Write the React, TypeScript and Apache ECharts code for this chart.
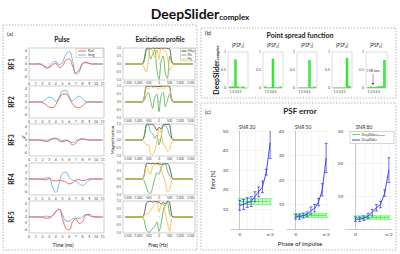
import React, { useEffect, useRef } from "react";
import * as echarts from "echarts";

// ---------- DATA ----------
const TIME = [0, 0.5, 1, 1.5, 2, 2.5, 3, 3.5, 4, 4.5, 5, 5.5, 6, 6.5, 7, 7.5, 8, 8.5, 9, 9.5, 10, 10.5, 11];
const TIME_TICKS = [0, 1, 2, 3, 4, 5, 6, 7, 8, 9, 10, 11];
const PULSE_TICKS = [-4, -2, 0, 2, 4];

const RF1_REAL = [0, 0, 0, 0, -0.3, -0.9, -1.1, -0.3, 0.2, -1.1, -0.6, 1.2, 1.6, -0.6, -2.7, -1.8, 0.1, 0.4, 0.1, 0, 0, 0, 0];
const RF1_IMAG = [0, 0, 0, 0.1, -0.4, -1.3, -1.0, 0.4, 0.8, -0.2, 0.6, 3.0, 4.0, 1.2, -3.2, -2.5, 0.2, 0.6, 0.2, 0, 0, 0, 0];
const RF2_REAL = [0, 0, 0, 0, -0.2, -0.8, -1.6, -1.8, -0.8, 1.0, 2.4, 2.5, 1.2, -0.6, -1.6, -1.8, -1.1, -0.3, 0, 0, 0, 0, 0];
const RF2_IMAG = [0, 0, 0, 0, 0.2, 0.9, 1.5, 1.2, 0.2, 1.5, 3.5, 3.6, 1.8, 0.3, 1.2, 1.8, 1.0, 0.2, 0, 0, 0, 0, 0];
const RF3_REAL = [0, 0, 0, 0, -0.2, -0.5, -0.3, 0.3, 0.4, -0.3, -0.6, -0.2, -0.5, -1.5, -1.0, 0, 0.3, 0.1, 0, 0, 0, 0, 0];
const RF3_IMAG = [0, 0, 0, 0, 0, -0.1, 0.1, 0.5, 0.6, 0.2, -0.2, 0, -0.4, -0.8, -0.3, 0.2, 0.4, 0.2, 0, 0, 0, 0, 0];
const RF4_REAL = [0, 0, 0, 0, -0.1, -0.3, 0.1, -0.4, -0.6, -0.4, -0.6, -1.0, -1.5, -1.2, -0.4, -0.2, -0.5, -0.3, 0, 0, 0, 0, 0];
const RF4_IMAG = [0, 0, 0, 0, 0, 0.3, 0.4, -2.5, -4.2, -1.5, 1.8, 2.1, 0.5, -0.3, -0.6, -1.5, -2.0, -1.3, -0.3, 0, 0, 0, 0];
const RF5_REAL = [0, 0, 0, 0, -0.1, -0.4, -0.3, 0.3, 1.6, 2.4, -0.5, -3.5, -4.0, -1.5, -0.6, -2.0, -1.4, 0.6, 0.8, 0.2, 0, 0, 0];
const RF5_IMAG = [0, 0, 0, 0, 0, 0.3, 0.1, 0.5, 1.8, 2.5, 0.8, -1.2, -1.3, -0.6, -0.3, -0.5, 0.2, 0.7, 0.4, 0.1, 0, 0, 0];

const FREQ = [-1600, -800, -700, -600, -500, -400, -300, -200, -100, 0, 100, 200, 300, 400, 500, 600, 700, 1600];
const FREQ_TICKS = [-1500, -1000, -500, 0, 500, 1000, 1500];
const MAG_TICKS = [-1, -0.5, 0, 0.5, 1];

const MXY1 = [0, 0, 0.3, 0.95, 1, 0.95, 1, 0.98, 1, 0.97, 1, 0.98, 1, 0.97, 0.95, 0.2, 0, 0];
const MX1 = [0, 0, 0.15, 0.85, 0.95, 0.3, 0.6, 0.9, -0.4, -0.95, 0.2, 0.5, -0.6, -0.9, 0.5, 0.1, 0, 0];
const MY1 = [0, 0, -0.25, -0.5, 0.3, 0.95, 0.8, 0.4, 0.9, 0.3, 0.98, 0.85, 0.8, 0.4, -0.4, -0.15, 0, 0];
const MXY2 = [0, 0, 0.3, 0.97, 0.98, 1, 0.97, 0.99, 0.98, 0.96, 0.98, 1, 0.99, 1, 0.97, 0.2, 0, 0];
const MX2 = [0, 0, 0.1, 0.4, 0.6, 0.1, -0.4, 0.3, 0.5, -0.6, 0.4, 0.6, -0.3, 0.1, 0.5, 0.1, 0, 0];
const MY2 = [0, 0, 0.3, 0.9, 0.8, 1, 0.9, 0.95, 0.85, 0.8, 0.9, 0.8, 0.95, 1, 0.85, 0.2, 0, 0];
const MXY3 = [0, 0, 0.25, 0.95, 1, 0.98, 0.97, 0.85, 0.6, 0.8, 0.7, 0.95, 0.98, 0.98, 0.95, 0.15, 0, 0];
const MX3 = [0, 0, 0.2, 0.9, 0.95, 0.5, 0.4, 0.1, 0.3, -0.3, 0.2, 0.9, 0.9, 0.7, 0.3, 0.1, 0, 0];
const MY3 = [0, 0, -0.1, -0.3, -0.3, -0.85, -0.9, -0.7, -0.1, 0.7, 0.5, -0.3, -0.4, -0.7, -0.6, -0.1, 0, 0];
const MXY4 = [0, 0, 0.25, 0.95, 0.98, 0.95, 0.97, 0.95, 0.98, 0.95, 0.92, 0.93, 0.96, 0.95, 0.75, 0.15, 0, 0];
const MX4 = [0, 0, -0.1, -0.5, -0.85, -0.9, -0.5, 0, 0.4, 0.3, 0.7, 0.9, 0.95, 0.5, 0.2, 0.1, 0, 0];
const MY4 = [0, 0, 0.2, 0.8, 0.5, 0.3, 0.8, 0.95, 0.9, 0.9, 0.6, 0.2, -0.2, -0.8, -0.7, -0.1, 0, 0];
const MXY5 = [0, 0, 0.2, 0.85, 0.97, 0.98, 0.92, 0.98, 0.95, 0.93, 0.8, 0.9, 0.82, 0.98, 0.92, 0.1, 0, 0];
const MX5 = [0, 0, -0.2, -0.8, -0.95, -0.9, -0.7, -0.6, -0.3, -0.9, -0.4, 0.4, 0.8, 0.9, 0.2, 0.05, 0, 0];
const MY5 = [0, 0, 0.05, 0.2, 0.2, 0.4, 0.6, 0.8, 0.9, 0.3, 0.7, 0.8, 0.2, -0.4, -0.9, -0.1, 0, 0];

const PSF_POS = [1, 2, 3, 4, 5, 6, 7];
const PSF_TICKS = [1, 2, 3, 4, 5];
const PSF1 = [0.04, 0.04, 0.79, 0.04, 0.01, 0.04, 0];
const PSF2 = [0.04, 0.01, 0.02, 0.81, 0.02, 0.01, 0.04];
const PSF3 = [0.01, 0.01, 0.01, 0.01, 0.77, 0.01, 0.04];
const PSF4 = [0.01, 0.01, 0.01, 0.01, 0.01, 0.83, 0.06];
const PSF5 = [0.02, 0.035, 0.02, 0.035, 0.05, 0.05, 0.78];

const PHASE = [0, 0.19635, 0.3927, 0.58905, 0.7854, 0.98175, 1.1781, 1.37445, 1.5708];
const PHASE_TICKS = [0, 0.3927, 0.7854, 1.1781, 1.5708];
const BLUE20 = [12, 12.5, 13.5, 14, 16.5, 19, 21.5, 29, 44, 70];
const BLUE20_ERR = [2.5, 2.5, 2.5, 2.5, 2.5, 2.5, 3, 1.5, 8, 10];
const GREEN20 = [14, 14, 14, 14, 14, 14, 14, 14, 14];
const GREEN20_ERR = [1.4, 1.4, 1.4, 1.4, 1.4, 1.4, 1.4, 1.4, 1.4];
const BLUE50 = [5, 5, 5.5, 6, 7.5, 8.5, 11, 16, 29];
const BLUE50_ERR = [1, 1, 1, 1, 1.5, 1.5, 1.5, 2.5, 6];
const GREEN50 = [5.5, 5.5, 5.5, 5.5, 5.5, 5.5, 5.5, 5.5, 5.5];
const GREEN50_ERR = [0.7, 0.7, 0.7, 0.7, 0.7, 0.7, 0.7, 0.7, 0.7];
const BLUE80 = [3, 3, 3.3, 4, 5, 6.5, 7.5, 11, 18];
const BLUE80_ERR = [0.7, 0.7, 0.7, 0.8, 1, 1, 1, 1, 3.8];
const GREEN80 = [3.5, 3.5, 3.5, 3.5, 3.5, 3.5, 3.5, 3.5, 3.5];
const GREEN80_ERR = [0.5, 0.5, 0.5, 0.5, 0.5, 0.5, 0.5, 0.5, 0.5];
const ERR_MAX = [50, 40, 30];

const RED = "#f0565a";
const LBLUE = "#6aaee0";
const DARK = "#3c3c3c";
const MGREEN = "#4caf50";
const ORANGE = "#f7b733";
const BGREEN = "#3cf03c";
const BBLUE = "#3434f0";
const FONT = "Lato";

function buildOption() {
  const grid: any[] = [];
  const xAxis: any[] = [];
  const yAxis: any[] = [];
  const series: any[] = [];
  const graphic: any[] = [];
  const lbl = { fontSize: 3.5, color: "#444", fontFamily: FONT };

  const add = (g: any, x: any, y: any) => {
    const i = grid.length;
    grid.push({ show: true, borderColor: "#b0b0b0", borderWidth: 0.6, backgroundColor: "#fff", ...g });
    xAxis.push({ gridIndex: i, ...x });
    yAxis.push({ gridIndex: i, ...y });
    return i;
  };

  const rowTops = [48, 86, 124, 163, 201];
  const pulses = [
    [RF1_REAL, RF1_IMAG], [RF2_REAL, RF2_IMAG], [RF3_REAL, RF3_IMAG], [RF4_REAL, RF4_IMAG], [RF5_REAL, RF5_IMAG],
  ];
  const excs = [[MXY1, MX1, MY1], [MXY2, MX2, MY2], [MXY3, MX3, MY3], [MXY4, MX4, MY4], [MXY5, MX5, MY5]];

  rowTops.forEach((top, r) => {
    const gi = add(
      { left: 29, top, width: 75, height: 32 },
      {
        type: "value", min: 0, max: 11.2,
        axisLine: { show: false },
        axisTick: { show: true, inside: true, length: 1, customValues: TIME_TICKS, lineStyle: { color: "#999", width: 0.4 } },
        axisLabel: { ...lbl, margin: 1.5, customValues: TIME_TICKS },
        splitLine: { show: false },
      },
      {
        type: "value", min: -5, max: 5,
        axisLine: { show: false },
        axisTick: { show: true, inside: true, length: 1, customValues: PULSE_TICKS, lineStyle: { color: "#999", width: 0.4 } },
        axisLabel: { ...lbl, margin: 2, customValues: PULSE_TICKS },
        splitLine: { show: false },
      }
    );
    const [re, im] = pulses[r];
    series.push({
      type: "line", xAxisIndex: gi, yAxisIndex: gi, data: TIME.map((t, i) => [t, re[i]]),
      smooth: 0.45, showSymbol: false, lineStyle: { color: RED, width: 0.9 }, z: 3,
    });
    series.push({
      type: "line", xAxisIndex: gi, yAxisIndex: gi, data: TIME.map((t, i) => [t, im[i]]),
      smooth: 0.45, showSymbol: false, lineStyle: { color: LBLUE, width: 0.9 }, z: 2,
    });

    const ge = add(
      { left: 123, top, width: 72, height: 32 },
      {
        type: "value", min: -1700, max: 1700,
        axisLine: { show: false },
        axisTick: { show: true, inside: true, length: 1, customValues: FREQ_TICKS, lineStyle: { color: "#999", width: 0.4 } },
        axisLabel: { ...lbl, fontSize: 3, margin: 1.5, customValues: FREQ_TICKS },
        splitLine: { show: false },
      },
      {
        type: "value", min: -1, max: 1,
        axisLine: { show: false },
        axisTick: { show: true, inside: true, length: 1, customValues: MAG_TICKS, lineStyle: { color: "#999", width: 0.4 } },
        axisLabel: { ...lbl, fontSize: 3, margin: 2, customValues: MAG_TICKS, formatter: (v: number) => v.toFixed(1) },
        splitLine: { show: false },
      }
    );
    const [mxy, mx, my] = excs[r];
    [[mxy, DARK], [mx, MGREEN], [my, ORANGE]].forEach(([arr, col]: any, k) => {
      series.push({
        type: "line", xAxisIndex: ge, yAxisIndex: ge, data: FREQ.map((f, i) => [f, arr[i]]),
        smooth: 0.3, showSymbol: false, lineStyle: { color: col, width: 0.8 }, z: 3 + k,
      });
    });
  });

  // ---- panel (b) PSF bars ----
  const psfLefts = [228, 263, 297, 332, 366];
  const psfWidths = [20, 20, 20, 20, 21];
  const psfs = [PSF1, PSF2, PSF3, PSF4, PSF5];
  psfLefts.forEach((left, p) => {
    const gi = add(
      { left, top: 52, width: psfWidths[p], height: 36, borderColor: "#c8c8c8" },
      {
        type: "value", min: 0, max: 8,
        axisLine: { show: false },
        axisTick: { show: false },
        axisLabel: { ...lbl, margin: 1.5, customValues: PSF_TICKS },
        splitLine: { show: false },
      },
      {
        type: "value", min: 0, max: 1,
        axisLine: { show: false },
        axisTick: { show: false },
        axisLabel: { ...lbl, margin: 2, customValues: [0, 0.5, 1] },
        splitLine: { show: false },
      }
    );
    series.push({
      type: "bar", xAxisIndex: gi, yAxisIndex: gi, barWidth: 2.4,
      data: PSF_POS.map((x, i) => [x, psfs[p][i]]),
      itemStyle: { color: BGREEN, borderColor: "#18a818", borderWidth: 0.3 },
    });
    graphic.push({
      type: "text", x: left + 10, y: 45,
      style: {
        text: `{a||PSF}{b|${p + 1}}{a||}`, align: "center", verticalAlign: "middle",
        rich: {
          a: { fontSize: 5, fontStyle: "italic", fontFamily: FONT, fill: "#222" },
          b: { fontSize: 3.2, fontStyle: "italic", fontFamily: FONT, fill: "#222", padding: [3, 0, 0, 0] },
        },
      },
    });
  });

  // ---- panel (c) PSF error ----
  const errGrids = [
    { left: 231, width: 42 },
    { left: 287, width: 42 },
    { left: 346, width: 46 },
  ];
  const errData = [
    [BLUE20, BLUE20_ERR, GREEN20, GREEN20_ERR],
    [BLUE50, BLUE50_ERR, GREEN50, GREEN50_ERR],
    [BLUE80, BLUE80_ERR, GREEN80, GREEN80_ERR],
  ];
  const titles = ["SNR 20", "SNR 50", "SNR 80"];
  const errBar = (color: string, cap: number) => (params: any, api: any) => {
    const x = api.value(0);
    const lo = api.coord([x, api.value(1)]);
    const hi = api.coord([x, api.value(2)]);
    const st = { stroke: color, lineWidth: 0.7 };
    return {
      type: "group",
      children: [
        { type: "line", shape: { x1: lo[0], y1: lo[1], x2: hi[0], y2: hi[1] }, style: st },
        { type: "line", shape: { x1: lo[0] - cap, y1: lo[1], x2: lo[0] + cap, y2: lo[1] }, style: st },
        { type: "line", shape: { x1: hi[0] - cap, y1: hi[1], x2: hi[0] + cap, y2: hi[1] }, style: st },
      ],
    };
  };
  errGrids.forEach((g, k) => {
    const gi = add(
      { left: g.left, width: g.width, top: 131, height: 98, borderWidth: 0, show: false },
      {
        type: "value", min: -0.45, max: 1.72,
        axisLine: { show: true, lineStyle: { color: "#aaa", width: 0.6 } },
        axisTick: { show: false, customValues: PHASE_TICKS },
        axisLabel: { ...lbl, fontSize: 4.5, margin: 3, customValues: [0, 1.5708], formatter: (v: number) => (v === 0 ? "0" : "π/2") },
        splitLine: { show: true, lineStyle: { color: "#ececec", width: 0.5 } },
      },
      {
        type: "value", min: 0, max: ERR_MAX[k], interval: 10,
        axisLine: { show: true, lineStyle: { color: "#aaa", width: 0.6 } },
        axisTick: { show: false },
        axisLabel: { ...lbl, fontSize: 4.5, margin: 3, showMinLabel: false },
        splitLine: { show: true, lineStyle: { color: "#ececec", width: 0.5 } },
      }
    );
    const [bm, be, gm, ge] = errData[k];
    series.push({
      type: "line", xAxisIndex: gi, yAxisIndex: gi, data: PHASE.map((p, i) => [p, gm[i]]),
      showSymbol: false, lineStyle: { color: BGREEN, width: 0.9 }, z: 3,
    });
    series.push({
      type: "custom", xAxisIndex: gi, yAxisIndex: gi, clip: true, z: 3,
      data: PHASE.map((p, i) => [p, gm[i] - ge[i], gm[i] + ge[i]]),
      renderItem: errBar(BGREEN, 2.4),
    });
    series.push({
      type: "line", xAxisIndex: gi, yAxisIndex: gi, data: PHASE.map((p, i) => [p, bm[i]]),
      showSymbol: false, clip: true, lineStyle: { color: BBLUE, width: 0.9 }, z: 4,
    });
    series.push({
      type: "custom", xAxisIndex: gi, yAxisIndex: gi, clip: true, z: 4,
      data: PHASE.map((p, i) => [p, bm[i] - be[i], bm[i] + be[i]]),
      renderItem: errBar(BBLUE, 1.5),
    });
    graphic.push({
      type: "text", x: g.left + g.width / 2 - 5, y: 127,
      style: { text: titles[k], fontSize: 5, fontFamily: FONT, fill: "#333", align: "center", verticalAlign: "middle" },
    });
  });

  // ---- boxes and labels ----
  const dash = { stroke: "#9a9a9a", fill: "none", lineWidth: 0.7, lineDash: [1.5, 1.5] };
  graphic.push({ type: "rect", shape: { x: 3, y: 25, width: 194, height: 225 }, style: dash, silent: true });
  graphic.push({ type: "rect", shape: { x: 201, y: 28, width: 195, height: 70 }, style: dash, silent: true });
  graphic.push({ type: "rect", shape: { x: 201, y: 103, width: 195, height: 147 }, style: dash, silent: true });

  const txt = (text: string, x: number, y: number, size: number, extra: any = {}) => ({
    type: "text", x, y, rotation: extra.rotation || 0,
    style: {
      text, fontSize: size, fontFamily: FONT, fill: "#222", align: "center", verticalAlign: "middle",
      fontWeight: extra.bold ? "bold" : "normal", fontStyle: extra.italic ? "italic" : "normal",
    },
  });

  graphic.push({
    type: "text", x: 200, y: 13,
    style: {
      text: "{a|DeepSlider}{b|complex}", align: "center", verticalAlign: "middle",
      rich: {
        a: { fontSize: 14, fontWeight: "bold", fontFamily: FONT, fill: "#111" },
        b: { fontSize: 8, fontWeight: "bold", fontFamily: FONT, fill: "#111", padding: [7, 0, 0, 0] },
      },
    },
  });
  graphic.push(txt("(a)", 10, 33, 6));
  graphic.push(txt("Pulse", 62, 39, 6.5, { bold: true }));
  graphic.push(txt("Excitation profile", 160, 39, 6.5, { bold: true }));
  ["RF1", "RF2", "RF3", "RF4", "RF5"].forEach((s, i) => graphic.push(txt(s, 11, rowTops[i] + 16, 6.5, { bold: true, rotation: Math.PI / 2 })));
  graphic.push(txt("uT", 23, 137, 4, { rotation: Math.PI / 2 }));
  graphic.push(txt("Time (ms)", 63, 245, 5));
  graphic.push(txt("Magnetization", 112.5, 140, 4.5, { rotation: Math.PI / 2 }));
  graphic.push(txt("Freq (Hz)", 158, 245, 5));

  // pulse legend
  graphic.push({ type: "rect", shape: { x: 76, y: 48.5, width: 27, height: 9 }, style: { fill: "#fff", stroke: "#999", lineWidth: 0.4 }, z: 10 });
  graphic.push({ type: "line", shape: { x1: 78, y1: 51, x2: 86, y2: 51 }, style: { stroke: RED, lineWidth: 0.9 }, z: 11 });
  graphic.push({ type: "line", shape: { x1: 78, y1: 55, x2: 86, y2: 55 }, style: { stroke: LBLUE, lineWidth: 0.9 }, z: 11 });
  graphic.push({ type: "text", x: 88, y: 51, z: 11, style: { text: "Real", fontSize: 3.2, fontFamily: FONT, fill: "#333", verticalAlign: "middle" } });
  graphic.push({ type: "text", x: 88, y: 55, z: 11, style: { text: "Imag", fontSize: 3.2, fontFamily: FONT, fill: "#333", verticalAlign: "middle" } });
  // excitation legend
  graphic.push({ type: "rect", shape: { x: 180.5, y: 48.5, width: 15, height: 12.5 }, style: { fill: "#fff", stroke: "#999", lineWidth: 0.4 }, z: 10 });
  [["|Mxy|", DARK], ["Mx", MGREEN], ["My", ORANGE]].forEach(([t, c], i) => {
    graphic.push({ type: "line", shape: { x1: 181.5, y1: 51 + i * 4, x2: 186.5, y2: 51 + i * 4 }, style: { stroke: c, lineWidth: 0.9 }, z: 11 });
    graphic.push({ type: "text", x: 187.5, y: 51 + i * 4, z: 11, style: { text: t, fontSize: 3, fontFamily: FONT, fill: "#333", verticalAlign: "middle" } });
  });

  // panel (b)
  graphic.push(txt("(b)", 208, 32, 6));
  graphic.push(txt("Point spread function", 300, 35, 7, { bold: true }));
  graphic.push({
    type: "text", x: 216, y: 70, rotation: Math.PI / 2,
    style: {
      text: "{a|DeepSlider}{b|complex}", align: "center", verticalAlign: "middle",
      rich: {
        a: { fontSize: 7, fontWeight: "bold", fontFamily: FONT, fill: "#111" },
        b: { fontSize: 4, fontWeight: "bold", fontFamily: FONT, fill: "#111", padding: [3, 0, 0, 0] },
      },
    },
  });
  graphic.push(txt("7.5% loss", 373, 71, 3.2));
  graphic.push({ type: "line", shape: { x1: 373, y1: 74, x2: 373, y2: 84 }, style: { stroke: "#222", lineWidth: 0.4 } });
  graphic.push({ type: "polygon", shape: { points: [[371.8, 83], [374.2, 83], [373, 85]] }, style: { fill: "#222" } });

  // panel (c)
  graphic.push(txt("(c)", 208, 111, 6));
  graphic.push(txt("PSF error", 300, 111, 8, { bold: true }));
  graphic.push(txt("Error (%)", 213, 180, 5, { rotation: Math.PI / 2 }));
  graphic.push(txt("Phase of impulse", 300, 243, 6));
  // legend (c)
  graphic.push({ type: "rect", shape: { x: 350, y: 131.5, width: 44, height: 12 }, style: { fill: "#fff", stroke: "#999", lineWidth: 0.4 }, z: 10 });
  graphic.push({ type: "line", shape: { x1: 352, y1: 134.5, x2: 360, y2: 134.5 }, style: { stroke: BGREEN, lineWidth: 0.9 }, z: 11 });
  graphic.push({ type: "line", shape: { x1: 352, y1: 140, x2: 360, y2: 140 }, style: { stroke: BBLUE, lineWidth: 0.9 }, z: 11 });
  graphic.push({
    type: "text", x: 361.5, y: 134.5, z: 11,
    style: {
      text: "{a|DeepSlider}{b|complex}", verticalAlign: "middle",
      rich: { a: { fontSize: 3.2, fontFamily: FONT, fill: "#333" }, b: { fontSize: 2.2, fontFamily: FONT, fill: "#333", padding: [1.5, 0, 0, 0] } },
    },
  });
  graphic.push({ type: "text", x: 361.5, y: 140, z: 11, style: { text: "DeepSlider", fontSize: 3.2, fontFamily: FONT, fill: "#333", verticalAlign: "middle" } });

  return { animation: false, backgroundColor: "#fff", grid, xAxis, yAxis, series, graphic };
}

export default function App() {
  const ref = useRef<HTMLDivElement>(null);
  useEffect(() => {
    if (!ref.current) return;
    const chart = echarts.init(ref.current, undefined, { renderer: "svg" });
    chart.setOption(buildOption() as any);
    return () => chart.dispose();
  }, []);
  return <div ref={ref} style={{ position: "fixed", left: 0, top: 0, width: 400, height: 254, background: "#fff" }} />;
}
